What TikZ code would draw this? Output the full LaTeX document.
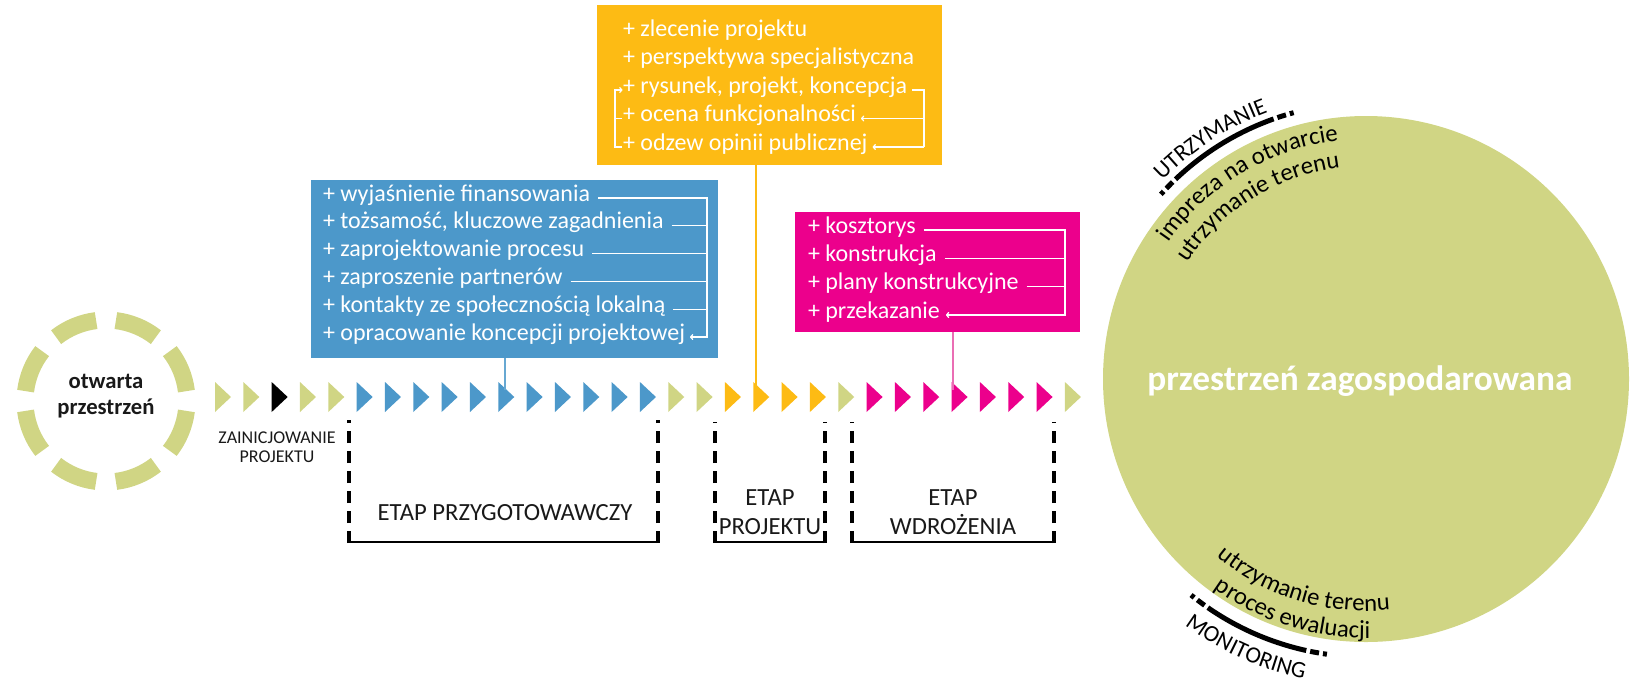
\documentclass[tikz,border=0pt]{standalone}
\usepackage{fontspec}
\setmainfont{Carlito}
\usetikzlibrary{calc,fit,decorations.text,arrows.meta}
\definecolor{lgreen}{RGB}{208,213,132}
\definecolor{pblue}{RGB}{76,152,202}
\definecolor{pyellow}{RGB}{253,187,20}
\definecolor{pmag}{RGB}{236,0,140}
\definecolor{pmagl}{RGB}{234,110,180}
\newcommand\itemfont{\fontsize{18}{21.5}\selectfont}
\newcommand\arcfont{\fontsize{18.5}{22}\selectfont}
\newcommand\arclabelfont{\fontsize{17.5}{21}\selectfont}
\begin{document}
\begin{tikzpicture}[x=0.75pt,y=0.75pt,
  every node/.style={inner sep=0pt,outer sep=0pt},
  item/.style={anchor=west,text=white,font=\itemfont,text height=0.75em,text depth=0.284em},
  wline/.style={white,line width=0.9pt},
  wtip/.style={wline,-{To[length=2.5pt,width=4.5pt]}},
  conn/.style={line width=1.1pt},
  bracketv/.style={line width=3pt,dash pattern=on 9pt off 6pt},
  bracketh/.style={line width=2pt},
  stagelabel/.style={font=\fontsize{18.5}{22}\selectfont,align=center,text=black!90},
  ring/.style={lgreen,line width=12.75pt},
  arcmark/.style={line width=3.75pt},
  arctext/.style={decorate,decoration={text along path,text align=center,text={|\arcfont|#1}}},
  arclabel/.style={decorate,decoration={text along path,text align=center,text={|\arclabelfont|#1}}}
]
\useasboundingbox (0,0) rectangle (1632,-683);

% left ring
\coordinate (L) at (106,-401);
\foreach \k in {0,...,7}
  \draw[ring] ($(L)+({\k*45+7}:81)$) arc[start angle={\k*45+7},end angle={\k*45+38},radius=81];
\node[font=\bfseries\fontsize{17}{19}\selectfont,align=center,text=black!90] (open) at (106,-396) {otwarta\\przestrzeń};

% big circle
\coordinate (C) at (1366,-379);
\fill[lgreen] (C) circle[radius=263];
\node[font=\bfseries\fontsize{26.5}{30}\selectfont,text=white] (done) at (1360,-381) {przestrzeń zagospodarowana};

% arc texts (top)
\path[arctext={impreza na otwarcie}] ($(C)+(162:240)$) arc[start angle=162,end angle=80,radius=240];
\path[arctext={utrzymanie terenu}] ($(C)+(163:213)$) arc[start angle=163,end angle=81,radius=213];
\path[arclabel={UTRZYMANIE}] ($(C)+(160:284)$) arc[start angle=160,end angle=86,radius=284];
\draw[arcmark,dash pattern=on 3pt off 3pt on 6.75pt off 3pt on 87pt off 3pt on 6.75pt off 3pt on 3pt] ($(C)+(138:276)$) arc[start angle=138,end angle=105,radius=276];

% arc texts (bottom)
\path[arctext={utrzymanie terenu}] ($(C)+(-152:232)$) arc[start angle=-152,end angle=-62,radius=232];
\path[arctext={proces ewaluacji}] ($(C)+(-152:259)$) arc[start angle=-152,end angle=-63,radius=259];
\path[arclabel={MONITORING}] ($(C)+(-152:306)$) arc[start angle=-152,end angle=-76,radius=306];
\draw[arcmark,dash pattern=on 3pt off 3pt on 6.75pt off 3pt on 81pt off 3pt on 6.75pt off 3pt on 3pt] ($(C)+(-129:278)$) arc[start angle=-129,end angle=-98,radius=278];

% blue panel
\node[fit={(311,-180) (718,-358)},fill=pblue] (bbox) {};
\node[item] (b1) at (323,-198) {+ wyjaśnienie finansowania};
\node[item] (b2) at (323,-225.8) {+ tożsamość, kluczowe zagadnienia};
\node[item] (b3) at (323,-253.6) {+ zaprojektowanie procesu};
\node[item] (b4) at (323,-281.4) {+ zaproszenie partnerów};
\node[item] (b5) at (323,-309.2) {+ kontakty ze społecznością lokalną};
\node[item] (b6) at (323,-337) {+ opracowanie koncepcji projektowej};
\coordinate (bx) at (707,-190);
\draw[wtip] ($(b1.east)+(8,0)$) -- (b1.east -| bx) -- (b6.east -| bx) -- ($(b6.east)+(5,0)$);
\foreach \i in {2,...,5} \draw[wline] ($(b\i.east)+(8,0)$) -- (b\i.east -| bx);

% yellow panel
\node[fit={(597,-5) (942,-165)},fill=pyellow] (ybox) {};
\node[item] (y1) at (623,-33) {+ zlecenie projektu};
\node[item] (y2) at (623,-61.5) {+ perspektywa specjalistyczna};
\node[item] (y3) at (623,-90) {+ rysunek, projekt, koncepcja};
\node[item] (y4) at (623,-118.5) {+ ocena funkcjonalności};
\node[item] (y5) at (623,-147) {+ odzew opinii publicznej};
\coordinate (ylx) at (615,-100);
\coordinate (yrx) at (924,-100);
\draw[wtip] ($(y5.west)+(-1,0)$) -- (y5.west -| ylx) -- (y3.west -| ylx) -- ($(y3.west)+(-0.5,0)$);
\draw[wline] (y4.west -| ylx) -- ($(y4.west)+(-1,0)$);
\draw[wline] ($(y3.east)+(5,0)$) -- (y3.east -| yrx) -- (y5.east -| yrx);
\draw[wtip] (y4.east -| yrx) -- ($(y4.east)+(5,0)$);
\draw[wtip] (y5.east -| yrx) -- ($(y5.east)+(5,0)$);

% magenta panel
\node[fit={(795,-212) (1080,-332)},fill=pmag] (mbox) {};
\node[item] (m1) at (808,-230) {+ kosztorys};
\node[item] (m2) at (808,-258.3) {+ konstrukcja};
\node[item] (m3) at (808,-286.6) {+ plany konstrukcyjne};
\node[item] (m4) at (808,-315) {+ przekazanie};
\coordinate (mx) at (1065,-240);
\draw[wtip] ($(m1.east)+(8,0)$) -- (m1.east -| mx) -- (m4.east -| mx) -- ($(m4.east)+(6,0)$);
\foreach \i in {2,3} \draw[wline] ($(m\i.east)+(8,0)$) -- (m\i.east -| mx);

% arrow row
\foreach \i/\c in {0/lgreen,1/lgreen,2/black,3/lgreen,4/lgreen,5/pblue,6/pblue,7/pblue,8/pblue,9/pblue,10/pblue,11/pblue,12/pblue,13/pblue,14/pblue,15/pblue,16/lgreen,17/lgreen,18/pyellow,19/pyellow,20/pyellow,21/pyellow,22/lgreen,23/pmag,24/pmag,25/pmag,26/pmag,27/pmag,28/pmag,29/pmag,30/lgreen}
  \fill[\c] ({215+28.33*\i},-382) -- ++(16,-15) -- ++(-16,-15) -- cycle;

% connectors from panels to arrow row
\coordinate (cb) at (505,-390);
\coordinate (cy) at (756,-390);
\coordinate (cm) at (953,-390);
\draw[conn,pblue!85!white] (bbox.south -| cb) -- (cb);
\draw[conn,pyellow] (ybox.south -| cy) -- (cy);
\draw[conn,pmagl] (mbox.south -| cm) -- (cm);

\node[font=\fontsize{13.5}{14.25}\selectfont,align=center,text=black!90] (init) at (277,-447) {ZAINICJOWANIE\\PROJEKTU};

% stage brackets
\draw[bracketv] (349,-543) -- (349,-420);
\draw[bracketv] (658,-543) -- (658,-420);
\draw[bracketh] (349,-542) -- (658,-542);
\node[stagelabel] (s1) at (505,-513) {ETAP PRZYGOTOWAWCZY};

\draw[bracketv] (715,-543) -- (715,-422);
\draw[bracketv] (825,-543) -- (825,-422);
\draw[bracketh] (715,-542) -- (825,-542);
\node[stagelabel] (s2) at (770,-512) {ETAP\\PROJEKTU};

\draw[bracketv] (852,-543) -- (852,-422);
\draw[bracketv] (1054,-543) -- (1054,-422);
\draw[bracketh] (852,-542) -- (1054,-542);
\node[stagelabel] (s3) at (953,-512) {ETAP\\WDROŻENIA};
\end{tikzpicture}
\end{document}
